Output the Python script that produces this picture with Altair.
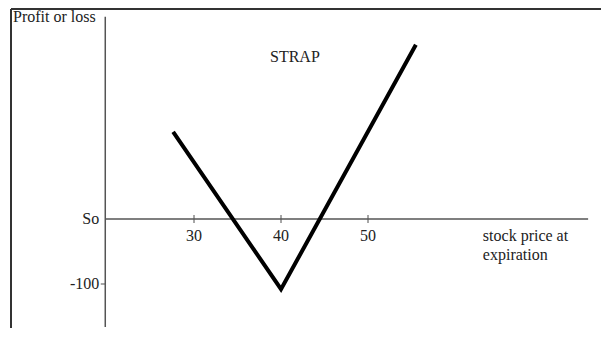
import altair as alt
import pandas as pd

# --- data ---
stock_price = [27.6, 40, 55.5]
profit_loss = [134, -108, 268]
x_tick_values = [30, 40, 50]
x_tick_labels = ["30", "40", "50"]
y_tick_values = [0, -100]
y_tick_labels = ["So", "-100"]
y_axis_title = "Profit or loss"
x_axis_title = ["stock price at", "expiration"]
chart_label = "STRAP"

# axis extents (data units)
x_axis_start, x_axis_end = 19.8, 75.3
y_axis_low, y_axis_high = -166, 311

FONT = "Liberation Serif"
FS = 16
W, H = 593, 320

xs = alt.Scale(domain=[8.62, 76.78], nice=False, zero=False)
ys = alt.Scale(domain=[-167.7, 324.6], nice=False, zero=False)

line_df = pd.DataFrame({"x": stock_price, "y": profit_loss})
xtick_df = pd.DataFrame({"x": x_tick_values, "y": [0] * 3, "label": x_tick_labels})
ytick_df = pd.DataFrame({"x": [x_axis_start] * 2, "y": y_tick_values, "label": y_tick_labels})
yaxis_df = pd.DataFrame({"x": [x_axis_start], "y": [y_axis_low], "y2": [y_axis_high]})
xaxis_df = pd.DataFrame({"x": [x_axis_start], "x2": [x_axis_end], "y": [0]})


def X(f="x"):
    return alt.X(f"{f}:Q", scale=xs, axis=None)


def Y(f="y"):
    return alt.Y(f"{f}:Q", scale=ys, axis=None)


frame_left = alt.Chart(pd.DataFrame({"a": [0]})).mark_rule(color="#333", strokeWidth=2).encode(
    x=alt.value(3), y=alt.value(1), y2=alt.value(H)
)
frame_top = alt.Chart(pd.DataFrame({"a": [0]})).mark_rule(color="#333", strokeWidth=2).encode(
    x=alt.value(3), x2=alt.value(W), y=alt.value(1)
)

y_axis = alt.Chart(yaxis_df).mark_rule(color="#555", strokeWidth=1.5).encode(
    x=X(), y=Y(), y2="y2:Q"
)
x_axis = alt.Chart(xaxis_df).mark_rule(color="#555", strokeWidth=1.5).encode(
    x=X(), x2="x2:Q", y=Y()
)
x_ticks = alt.Chart(xtick_df).mark_tick(orient="vertical", size=8, thickness=1.5, color="#555").encode(
    x=X(), y=Y()
)
x_tick_text = alt.Chart(xtick_df).mark_text(
    font=FONT, fontSize=FS, color="#222", dy=17, baseline="middle", align="center"
).encode(x=X(), y=Y(), text="label:N")

y_ticks = alt.Chart(ytick_df[ytick_df["y"] != 0]).mark_tick(
    orient="horizontal", size=5, thickness=1.5, color="#555", xOffset=-2
).encode(x=X(), y=Y())
y_tick_text = alt.Chart(ytick_df).mark_text(
    font=FONT, fontSize=FS, color="#222", dx=-6, baseline="middle", align="right"
).encode(x=X(), y=Y(), text="label:N")

x_title_layers = []
for i, (line, dy) in enumerate(zip(x_axis_title, [22, 41])):
    df = pd.DataFrame({"x": [63.2], "y": [0], "label": [line]})
    x_title_layers.append(
        alt.Chart(df).mark_text(
            font=FONT, fontSize=FS, color="#222", align="left", baseline="alphabetic", dy=dy
        ).encode(x=X(), y=Y(), text="label:N")
    )

y_title = alt.Chart(pd.DataFrame({"label": [y_axis_title]})).mark_text(
    font=FONT, fontSize=FS, color="#222", align="left", baseline="alphabetic"
).encode(x=alt.value(5), y=alt.value(14), text="label:N")

strap = alt.Chart(pd.DataFrame({"label": [chart_label]})).mark_text(
    font=FONT, fontSize=FS, color="#222", align="left", baseline="alphabetic"
).encode(x=alt.value(262), y=alt.value(54), text="label:N")

payoff = alt.Chart(line_df).mark_line(color="black", strokeWidth=4, strokeJoin="miter").encode(
    x=X(), y=Y()
)

chart = alt.layer(
    frame_left, frame_top, y_axis, x_axis, x_ticks, x_tick_text, y_ticks, y_tick_text,
    *x_title_layers, y_title, strap, payoff
).properties(
    width=W, height=H, padding=0, autosize=alt.AutoSizeParams(type="none"), background="white"
).configure_view(stroke=None)

chart.save("out.html", embed_options={"renderer": "svg", "actions": False})
